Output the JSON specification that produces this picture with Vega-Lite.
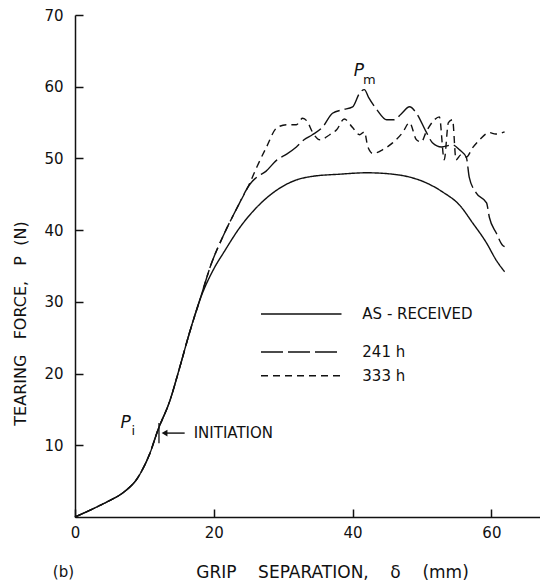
{
  "$schema": "https://vega.github.io/schema/vega-lite/v6.json",
  "width": 465,
  "height": 502,
  "autosize": {"type": "none"},
  "padding": {"left": 75, "top": 15, "right": 0, "bottom": 68},
  "background": "white",
  "config": {
    "view": {"stroke": null},
    "font": "DejaVu Sans",
    "axis": {"grid": false, "domainColor": "#111", "tickColor": "#111", "labelColor": "#111", "titleColor": "#111", "labelFont": "DejaVu Sans", "titleFont": "DejaVu Sans", "labelFontSize": 15, "titleFontSize": 16, "titleFontWeight": "normal", "domainWidth": 1.5, "tickWidth": 1.5}
  },
  "datasets": {
    "curves": [
      {"series": "AS-RECEIVED", "x": 0, "P": 0}, {"series": "AS-RECEIVED", "x": 2.5, "P": 1.1}, {"series": "AS-RECEIVED", "x": 5, "P": 2.3}, {"series": "AS-RECEIVED", "x": 6.5, "P": 3.1}, {"series": "AS-RECEIVED", "x": 7.7, "P": 4.0}, {"series": "AS-RECEIVED", "x": 8.7, "P": 5.0}, {"series": "AS-RECEIVED", "x": 9.6, "P": 6.4}, {"series": "AS-RECEIVED", "x": 10.8, "P": 8.9}, {"series": "AS-RECEIVED", "x": 11.9, "P": 12.0}, {"series": "AS-RECEIVED", "x": 13.7, "P": 16.3}, {"series": "AS-RECEIVED", "x": 15.1, "P": 20.9}, {"series": "AS-RECEIVED", "x": 16.5, "P": 25.7}, {"series": "AS-RECEIVED", "x": 18, "P": 30.3}, {"series": "AS-RECEIVED", "x": 20, "P": 34.6}, {"series": "AS-RECEIVED", "x": 21.5, "P": 37.0}, {"series": "AS-RECEIVED", "x": 23.7, "P": 40.3}, {"series": "AS-RECEIVED", "x": 26.2, "P": 43.2}, {"series": "AS-RECEIVED", "x": 29.1, "P": 45.6}, {"series": "AS-RECEIVED", "x": 31.9, "P": 47.0}, {"series": "AS-RECEIVED", "x": 34.2, "P": 47.5}, {"series": "AS-RECEIVED", "x": 38.1, "P": 47.8}, {"series": "AS-RECEIVED", "x": 42, "P": 48.0}, {"series": "AS-RECEIVED", "x": 45.8, "P": 47.8}, {"series": "AS-RECEIVED", "x": 48.2, "P": 47.4}, {"series": "AS-RECEIVED", "x": 50.6, "P": 46.6}, {"series": "AS-RECEIVED", "x": 53, "P": 45.3}, {"series": "AS-RECEIVED", "x": 55.4, "P": 43.5}, {"series": "AS-RECEIVED", "x": 57.3, "P": 41.0}, {"series": "AS-RECEIVED", "x": 59.3, "P": 38.2}, {"series": "AS-RECEIVED", "x": 60.7, "P": 35.8}, {"series": "AS-RECEIVED", "x": 61.9, "P": 34.2},
      {"series": "241 h", "x": 0, "P": 0}, {"series": "241 h", "x": 2.5, "P": 1.1}, {"series": "241 h", "x": 5, "P": 2.3}, {"series": "241 h", "x": 6.5, "P": 3.1}, {"series": "241 h", "x": 7.7, "P": 4.0}, {"series": "241 h", "x": 8.7, "P": 5.0}, {"series": "241 h", "x": 9.6, "P": 6.4}, {"series": "241 h", "x": 10.8, "P": 8.9}, {"series": "241 h", "x": 11.9, "P": 12.0}, {"series": "241 h", "x": 13.7, "P": 16.3}, {"series": "241 h", "x": 15.1, "P": 20.9}, {"series": "241 h", "x": 16.5, "P": 25.7}, {"series": "241 h", "x": 18, "P": 30.3}, {"series": "241 h", "x": 19.6, "P": 35.2}, {"series": "241 h", "x": 21.5, "P": 39.5}, {"series": "241 h", "x": 23.4, "P": 43.2}, {"series": "241 h", "x": 25.2, "P": 46.4}, {"series": "241 h", "x": 26.2, "P": 47.4}, {"series": "241 h", "x": 27.5, "P": 48.2}, {"series": "241 h", "x": 29.1, "P": 49.8}, {"series": "241 h", "x": 30.5, "P": 50.6}, {"series": "241 h", "x": 31.9, "P": 51.6}, {"series": "241 h", "x": 33, "P": 52.6}, {"series": "241 h", "x": 34.2, "P": 53.3}, {"series": "241 h", "x": 35.7, "P": 54.4}, {"series": "241 h", "x": 37.1, "P": 56.3}, {"series": "241 h", "x": 38.6, "P": 56.8}, {"series": "241 h", "x": 40, "P": 57.2}, {"series": "241 h", "x": 41, "P": 59.1}, {"series": "241 h", "x": 41.7, "P": 59.6}, {"series": "241 h", "x": 42.3, "P": 58.5}, {"series": "241 h", "x": 43.5, "P": 56.8}, {"series": "241 h", "x": 44.9, "P": 55.4}, {"series": "241 h", "x": 46, "P": 55.4}, {"series": "241 h", "x": 47, "P": 56.2}, {"series": "241 h", "x": 48.2, "P": 57.2}, {"series": "241 h", "x": 49.2, "P": 56.3}, {"series": "241 h", "x": 50.6, "P": 53.7}, {"series": "241 h", "x": 51.5, "P": 52.2}, {"series": "241 h", "x": 52.8, "P": 51.6}, {"series": "241 h", "x": 54.4, "P": 51.9}, {"series": "241 h", "x": 55.4, "P": 51.2}, {"series": "241 h", "x": 56.4, "P": 50.1}, {"series": "241 h", "x": 56.8, "P": 47.4}, {"series": "241 h", "x": 57.8, "P": 45.2}, {"series": "241 h", "x": 59.3, "P": 43.8}, {"series": "241 h", "x": 59.7, "P": 41.8}, {"series": "241 h", "x": 60.7, "P": 39.6}, {"series": "241 h", "x": 61.6, "P": 37.9}, {"series": "241 h", "x": 61.9, "P": 37.7},
      {"series": "333 h", "x": 0, "P": 0}, {"series": "333 h", "x": 2.5, "P": 1.1}, {"series": "333 h", "x": 5, "P": 2.3}, {"series": "333 h", "x": 6.5, "P": 3.1}, {"series": "333 h", "x": 7.7, "P": 4.0}, {"series": "333 h", "x": 8.7, "P": 5.0}, {"series": "333 h", "x": 9.6, "P": 6.4}, {"series": "333 h", "x": 10.8, "P": 8.9}, {"series": "333 h", "x": 11.9, "P": 12.0}, {"series": "333 h", "x": 13.7, "P": 16.3}, {"series": "333 h", "x": 15.1, "P": 20.9}, {"series": "333 h", "x": 16.5, "P": 25.7}, {"series": "333 h", "x": 18, "P": 30.3}, {"series": "333 h", "x": 19.6, "P": 35.2}, {"series": "333 h", "x": 21.5, "P": 39.5}, {"series": "333 h", "x": 23.4, "P": 43.2}, {"series": "333 h", "x": 25.2, "P": 46.6}, {"series": "333 h", "x": 26.2, "P": 48.8}, {"series": "333 h", "x": 27.6, "P": 51.6}, {"series": "333 h", "x": 29.1, "P": 54.3}, {"series": "333 h", "x": 30.5, "P": 54.7}, {"series": "333 h", "x": 31.9, "P": 54.7}, {"series": "333 h", "x": 32.8, "P": 55.6}, {"series": "333 h", "x": 33.5, "P": 55.1}, {"series": "333 h", "x": 34.2, "P": 53.7}, {"series": "333 h", "x": 35.3, "P": 52.6}, {"series": "333 h", "x": 36.7, "P": 53.3}, {"series": "333 h", "x": 37.7, "P": 54.0}, {"series": "333 h", "x": 38.8, "P": 55.5}, {"series": "333 h", "x": 40, "P": 54.3}, {"series": "333 h", "x": 41, "P": 53.3}, {"series": "333 h", "x": 41.7, "P": 53.7}, {"series": "333 h", "x": 42.2, "P": 51.6}, {"series": "333 h", "x": 42.9, "P": 50.7}, {"series": "333 h", "x": 44.3, "P": 51.2}, {"series": "333 h", "x": 45.8, "P": 52.2}, {"series": "333 h", "x": 47.2, "P": 53.6}, {"series": "333 h", "x": 48.2, "P": 55.0}, {"series": "333 h", "x": 49.2, "P": 52.6}, {"series": "333 h", "x": 49.9, "P": 52.3}, {"series": "333 h", "x": 50.6, "P": 53.7}, {"series": "333 h", "x": 51.8, "P": 55.4}, {"series": "333 h", "x": 52.5, "P": 55.8}, {"series": "333 h", "x": 53.2, "P": 49.8}, {"series": "333 h", "x": 53.8, "P": 55.0}, {"series": "333 h", "x": 54.4, "P": 55.4}, {"series": "333 h", "x": 54.9, "P": 49.8}, {"series": "333 h", "x": 55.6, "P": 50.5}, {"series": "333 h", "x": 56.4, "P": 50.2}, {"series": "333 h", "x": 57.3, "P": 51.5}, {"series": "333 h", "x": 58.3, "P": 52.6}, {"series": "333 h", "x": 59.7, "P": 53.6}, {"series": "333 h", "x": 60.6, "P": 53.4}, {"series": "333 h", "x": 61.9, "P": 53.7}
    ],
    "legend": [
      {"series": "AS-RECEIVED", "label": "AS\u00a0-\u00a0RECEIVED", "P": 28.3},
      {"series": "241 h", "label": "241\u00a0h", "P": 23.0},
      {"series": "333 h", "label": "333\u00a0h", "P": 19.7}
    ]
  },
  "layer": [
    {
      "data": {"name": "curves"},
      "mark": {"type": "line", "color": "#111", "strokeWidth": 1.4, "interpolate": "monotone"},
      "encoding": {
        "x": {"field": "x", "type": "quantitative", "scale": {"domain": [0, 67], "nice": false, "zero": false},
          "axis": {"values": [0, 20, 40, 60], "title": "GRIP\u00a0\u00a0\u00a0\u00a0SEPARATION,\u00a0\u00a0\u00a0\u00a0δ\u00a0\u00a0\u00a0\u00a0(mm)", "titleFontSize": 17, "tickSize": -8, "labelPadding": 16, "labelFlush": false, "titleX": 257, "titleY": 55, "titleBaseline": "middle", "titleAnchor": "middle", "titleAlign": "center"}},
        "y": {"field": "P", "type": "quantitative", "scale": {"domain": [0, 70], "nice": false, "zero": false},
          "axis": {"values": [10, 20, 30, 40, 50, 60, 70], "title": "TEARING\u00a0\u00a0\u00a0FORCE,\u00a0\u00a0\u00a0P\u00a0\u00a0(N)", "tickSize": -8, "labelPadding": 20, "labelFlush": false, "titleX": -55, "titleY": 308, "titleBaseline": "middle", "titleAlign": "center", "titleAngle": -90}},
        "strokeDash": {"field": "series", "type": "nominal", "scale": {"domain": ["AS-RECEIVED", "241 h", "333 h"], "range": [[1, 0], [22, 5], [7, 5]]}, "legend": null}
      }
    },
    {
      "mark": {"type": "rule", "color": "#111", "strokeWidth": 1.5},
      "encoding": {"y": {"datum": 70, "type": "quantitative"}}
    },
    {
      "data": {"name": "legend"},
      "mark": {"type": "rule", "color": "#111", "strokeWidth": 1.4},
      "encoding": {
        "x": {"datum": 26.8, "type": "quantitative"},
        "x2": {"datum": 38.4},
        "y": {"field": "P", "type": "quantitative"},
        "strokeDash": {"field": "series", "type": "nominal"}
      }
    },
    {
      "data": {"name": "legend"},
      "mark": {"type": "text", "align": "left", "baseline": "middle", "fontSize": 15, "color": "#111"},
      "encoding": {
        "x": {"datum": 41.4, "type": "quantitative"},
        "y": {"field": "P", "type": "quantitative"},
        "text": {"field": "label"}
      }
    },
    {
      "data": {"values": [{"x": 40.9, "P": 62.2, "text": "P"}, {"x": 7.3, "P": 13.1, "text": "P"}]},
      "mark": {"type": "text", "align": "center", "baseline": "middle", "fontSize": 17, "fontStyle": "italic", "color": "#111"},
      "encoding": {"x": {"field": "x", "type": "quantitative"}, "y": {"field": "P", "type": "quantitative"}, "text": {"field": "text"}}
    },
    {
      "data": {"values": [{"x": 42.4, "P": 61.0, "text": "m"}, {"x": 8.4, "P": 12.0, "text": "i"}]},
      "mark": {"type": "text", "align": "center", "baseline": "middle", "fontSize": 13, "color": "#111"},
      "encoding": {"x": {"field": "x", "type": "quantitative"}, "y": {"field": "P", "type": "quantitative"}, "text": {"field": "text"}}
    },
    {
      "data": {"values": [{"x": 17.1, "P": 11.7, "text": "INITIATION"}, {"x": -3.2, "P": -7.7, "text": "(b)"}]},
      "mark": {"type": "text", "align": "left", "baseline": "middle", "fontSize": 15, "color": "#111"},
      "encoding": {"x": {"field": "x", "type": "quantitative"}, "y": {"field": "P", "type": "quantitative"}, "text": {"field": "text"}}
    },
    {
      "data": {"values": [{"x": 13.0, "x2": 15.8, "P": 11.7}]},
      "mark": {"type": "rule", "color": "#111", "strokeWidth": 1.4},
      "encoding": {"x": {"field": "x", "type": "quantitative"}, "x2": {"field": "x2"}, "y": {"field": "P", "type": "quantitative"}}
    },
    {
      "data": {"values": [{"x": 12.9, "P": 11.7}]},
      "mark": {"type": "point", "shape": "triangle-left", "size": 45, "filled": true, "color": "#111", "opacity": 1},
      "encoding": {"x": {"field": "x", "type": "quantitative"}, "y": {"field": "P", "type": "quantitative"}}
    },
    {
      "data": {"values": [{"x": 12.1, "P": 10.3, "P2": 13.1}]},
      "mark": {"type": "rule", "color": "#111", "strokeWidth": 1.3},
      "encoding": {"x": {"field": "x", "type": "quantitative"}, "y": {"field": "P", "type": "quantitative"}, "y2": {"field": "P2"}}
    }
  ]
}
